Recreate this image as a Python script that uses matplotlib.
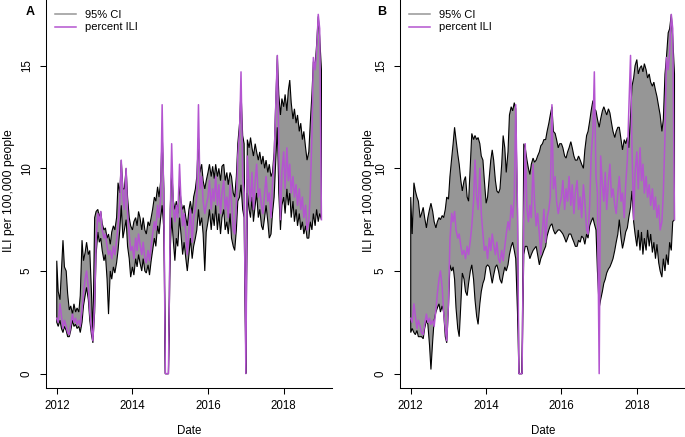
import matplotlib
matplotlib.use("Agg")
import matplotlib.pyplot as plt
import matplotlib.dates as mdates
from matplotlib.lines import Line2D
import numpy as np
import pandas as pd
from datetime import datetime

plt.rcParams['font.family'] = ['Liberation Sans', 'DejaVu Sans']

# semi-monthly dates, Jan 2012 - Jan 2019
dates = pd.date_range('2012-01-01', '2019-01-01', freq='SMS')

# percent ILI (same series in both panels)
ili = ([2.7, 2.5, 3.4, 2.8, 2.2, 2.6, 2.3, 2.0, 1.9, 2.4, 2.9, 2.5, 2.7, 2.4, 2.6, 2.3, 3.1, 3.9, 4.6, 5.0, 4.2, 3.0, 2.2, 1.6]
       + [3.5, 6.5, 7.8, 7.4, 7.9, 7.0, 6.6, 6.8, 6.2, 5.8, 6.0, 5.6, 6.2, 5.8, 6.5, 7.2, 8.4, 10.4, 8.6, 8.0, 10.0, 7.8, 6.8, 6.0]
       + [6.2, 5.6, 6.6, 6.0, 6.8, 6.3, 5.8, 6.4, 5.6, 5.4, 6.0, 5.5, 6.2, 6.8, 7.4, 7.0, 8.2, 7.6, 8.6, 13.1, 8.0, 0, 0, 0]
       + [7.5, 11.2, 8.0, 7.4, 8.2, 7.6, 10.2, 8.4, 7.2, 7.8, 6.8, 5.8, 7.0, 8.0, 6.4, 7.6, 8.0, 8.6, 13.1, 9.0, 9.6, 8.4, 7.8, 8.2]
       + [8.6, 9.4, 8.0, 9.0, 8.4, 9.6, 8.2, 9.2, 7.8, 8.8, 9.4, 8.0, 8.6, 7.6, 9.2, 8.4, 7.0, 6.8, 8.2, 10.6, 11.8, 14.7, 9.6, 8.8]
       + [0, 10.6, 9.2, 8.4, 9.8, 8.0, 9.4, 10.2, 8.6, 9.0, 8.2, 7.8, 8.8, 9.6, 8.4, 8.8, 7.6, 9.2, 10.4, 12.8, 15.5, 11.0, 7.5, 9.8]
       + [10.8, 9.0, 11.0, 9.4, 10.2, 8.8, 9.6, 8.6, 9.2, 8.2, 9.0, 8.0, 8.6, 7.6, 8.2, 7.0, 7.4, 8.8, 11.6, 15.4, 14.8, 15.6, 17.5, 16.8]
       + [7.5])

# panel A: 95% CI
lo_a = ([2.5, 2.3, 2.6, 2.2, 2.0, 2.3, 2.1, 1.8, 1.8, 2.1, 2.6, 2.3, 2.4, 2.2, 2.3, 2.0, 2.5, 3.3, 3.8, 4.2, 3.6, 2.6, 1.9, 1.5]
        + [3.0, 5.8, 6.9, 6.4, 6.6, 6.0, 5.5, 5.8, 4.6, 2.9, 5.0, 4.6, 5.2, 4.9, 5.4, 6.0, 7.0, 8.2, 6.6, 7.0, 7.5, 6.2, 5.6, 4.7]
        + [5.2, 4.8, 5.6, 5.2, 5.8, 5.4, 5.0, 5.6, 5.0, 4.9, 5.3, 4.8, 5.5, 6.0, 6.6, 6.2, 7.2, 6.8, 7.6, 8.2, 7.0, 0, 0, 0]
        + [6.0, 7.6, 6.4, 5.5, 6.6, 6.2, 7.6, 6.8, 5.8, 6.4, 5.6, 5.0, 5.8, 6.6, 5.6, 6.2, 6.6, 7.0, 8.0, 7.2, 7.6, 6.8, 5.0, 6.9]
        + [7.4, 8.0, 7.0, 7.8, 7.2, 8.2, 7.0, 7.8, 6.8, 7.6, 8.0, 7.0, 7.4, 6.8, 7.8, 6.6, 6.2, 6.0, 7.0, 8.4, 8.6, 9.2, 8.0, 7.6]
        + [0, 8.8, 8.0, 7.6, 8.6, 7.4, 8.2, 8.8, 7.6, 8.0, 7.2, 7.0, 7.6, 8.2, 7.4, 6.6, 6.8, 7.8, 8.6, 10.2, 12.0, 8.8, 7.0, 8.2]
        + [8.6, 7.8, 9.0, 8.2, 8.8, 7.6, 8.4, 7.4, 8.0, 7.2, 7.8, 7.0, 7.4, 6.8, 7.2, 6.6, 6.6, 7.4, 7.0, 7.8, 7.2, 8.0, 7.4, 7.8]
        + [7.5])
hi_a = ([5.5, 4.0, 3.6, 5.0, 6.5, 5.2, 5.0, 3.9, 3.1, 3.3, 2.9, 3.4, 3.0, 3.2, 3.0, 3.8, 6.5, 5.5, 5.9, 6.4, 5.8, 6.0, 4.0, 1.8]
        + [7.6, 7.9, 8.0, 7.6, 7.9, 7.3, 7.0, 7.1, 6.6, 6.8, 6.3, 6.9, 7.2, 7.0, 7.6, 9.3, 8.8, 10.4, 9.0, 9.0, 10.0, 8.6, 7.6, 7.2]
        + [7.0, 7.4, 7.6, 7.2, 7.9, 7.6, 7.0, 7.6, 7.0, 6.8, 7.4, 7.2, 7.6, 8.0, 8.6, 8.4, 9.1, 8.6, 9.4, 11.8, 9.0, 0, 0, 0]
        + [8.0, 10.0, 8.4, 8.0, 8.4, 7.8, 9.2, 8.4, 8.0, 8.2, 7.6, 7.2, 8.0, 8.4, 7.8, 8.6, 9.0, 9.6, 11.5, 9.8, 10.2, 9.4, 9.0, 9.4]
        + [9.8, 10.2, 9.6, 10.1, 9.5, 10.2, 9.6, 10.0, 9.4, 10.1, 10.2, 9.4, 9.8, 9.2, 9.8, 9.6, 8.8, 8.6, 9.6, 11.2, 12.2, 13.8, 11.6, 11.2]
        + [0, 11.4, 11.0, 11.5, 11.0, 10.6, 11.2, 10.8, 10.4, 10.8, 10.2, 10.6, 10.0, 10.4, 9.8, 10.2, 9.6, 9.8, 10.8, 13.0, 15.5, 13.6, 12.6, 13.4]
        + [13.0, 13.6, 12.8, 13.8, 14.3, 13.2, 12.4, 12.9, 12.2, 12.6, 11.8, 12.2, 11.4, 11.8, 11.0, 10.4, 10.8, 12.2, 13.6, 15.2, 15.0, 16.0, 17.4, 16.4]
        + [14.8])

# panel B: 95% CI
lo_b = ([2.0, 2.2, 2.0, 1.9, 2.1, 1.8, 1.8, 1.8, 1.7, 2.2, 2.6, 2.4, 1.4, 0.2, 1.6, 2.6, 3.0, 3.2, 3.4, 3.0, 3.3, 3.0, 1.8, 1.5]
        + [3.2, 5.3, 5.0, 5.2, 4.6, 3.2, 2.2, 1.8, 3.4, 4.9, 4.6, 4.0, 3.8, 4.4, 5.0, 5.3, 4.6, 3.6, 2.8, 2.4, 3.4, 4.0, 4.4, 4.6]
        + [5.2, 5.3, 5.2, 4.8, 4.4, 4.8, 5.2, 5.3, 5.0, 4.6, 4.4, 4.8, 5.2, 5.0, 5.3, 5.8, 6.2, 6.4, 6.0, 5.6, 3.0, 0, 0, 0]
        + [5.8, 6.2, 6.2, 5.9, 5.6, 5.8, 6.0, 6.1, 6.2, 5.8, 5.3, 5.6, 5.8, 6.0, 6.2, 6.7, 7.0, 7.2, 7.3, 7.0, 6.8, 6.9, 7.0, 7.0]
        + [6.9, 6.8, 6.6, 6.4, 6.6, 6.8, 6.8, 6.6, 6.4, 6.2, 6.2, 6.5, 6.4, 6.7, 6.6, 6.3, 6.8, 6.6, 7.2, 7.4, 7.6, 7.3, 7.0, 5.0]
        + [3.2, 3.6, 4.0, 4.4, 4.6, 4.9, 5.1, 5.2, 5.4, 5.6, 6.0, 6.4, 6.8, 7.5, 6.6, 6.1, 6.5, 6.9, 7.1, 7.6, 8.1, 8.9, 7.4, 6.8]
        + [6.2, 7.0, 6.0, 6.9, 5.8, 6.6, 6.0, 7.0, 6.2, 6.8, 5.9, 6.4, 5.6, 6.3, 5.4, 5.0, 4.7, 5.6, 5.0, 5.8, 5.3, 6.4, 6.0, 7.4]
        + [7.5])
hi_b = ([8.6, 6.8, 9.3, 8.9, 8.6, 8.4, 7.6, 7.8, 8.1, 7.6, 7.1, 7.6, 8.0, 8.3, 7.9, 7.4, 7.1, 7.4, 7.6, 7.5, 7.7, 7.6, 8.0, 8.6]
        + [8.5, 9.6, 10.5, 11.2, 12.0, 11.4, 10.7, 10.2, 9.4, 8.9, 9.4, 9.6, 8.6, 8.4, 10.2, 11.7, 11.4, 11.6, 11.4, 11.5, 11.2, 10.6, 10.4, 9.4]
        + [8.3, 8.6, 9.6, 10.4, 10.9, 10.4, 9.4, 8.9, 8.8, 9.0, 10.2, 11.6, 11.0, 9.8, 10.8, 12.6, 13.0, 12.8, 13.2, 12.9, 8.0, 0, 0, 0]
        + [11.2, 11.0, 10.4, 10.0, 9.7, 10.2, 10.5, 10.3, 10.4, 10.6, 10.8, 11.1, 11.2, 11.4, 11.4, 11.8, 12.2, 12.6, 13.0, 11.8, 11.7, 11.4, 11.0, 11.2]
        + [11.2, 11.0, 10.6, 10.5, 10.8, 11.0, 11.3, 11.0, 10.6, 10.4, 10.4, 10.6, 10.4, 10.2, 10.0, 10.9, 11.6, 11.8, 12.3, 12.8, 13.3, 12.9, 12.8, 12.4]
        + [12.0, 12.4, 12.8, 13.0, 12.8, 12.6, 12.9, 12.7, 12.2, 11.8, 11.5, 11.8, 12.0, 12.0, 11.4, 10.9, 11.4, 11.2, 11.5, 11.0, 12.6, 14.0, 14.4, 15.0]
        + [15.3, 14.6, 14.9, 15.0, 14.7, 15.1, 14.8, 14.4, 14.6, 14.2, 14.0, 14.2, 13.8, 13.5, 13.0, 12.6, 11.8, 12.4, 14.6, 15.4, 16.6, 16.8, 17.5, 16.4]
        + [14.6])

tick_years = [2012, 2014, 2016, 2018]
y_ticks = [0, 5, 10, 15]

fill_col = '#969696'
ili_col = '#B455D0'
fs = 8.3


def draw_panel(ax, lo, hi):
    x = mdates.date2num(dates.to_pydatetime())
    lo = np.array(lo)
    hi = np.array(hi)
    ax.fill(np.concatenate([x, x[::-1]]), np.concatenate([lo, hi[::-1]]),
            facecolor=fill_col, edgecolor='black', linewidth=0.8, zorder=2)
    ax.plot(x, ili, color=ili_col, lw=1.1, zorder=3)

    ax.set_xlim(mdates.date2num(datetime(2011, 9, 19)), mdates.date2num(datetime(2019, 4, 13)))
    ax.set_ylim(-0.7, 18.2)
    ax.set_xticks([mdates.date2num(datetime(y, 1, 1)) for y in tick_years])
    ax.set_xticklabels([str(y) for y in tick_years])
    ax.set_yticks(y_ticks)
    ax.set_yticklabels([str(v) for v in y_ticks], rotation=90, va='center')
    ax.tick_params(direction='out', length=4.5, width=0.75, labelsize=fs, pad=4)
    ax.tick_params(axis='y', pad=5)
    for s in ['top', 'right']:
        ax.spines[s].set_visible(False)
    for s in ['left', 'bottom']:
        ax.spines[s].set_linewidth(0.75)

    handles = [Line2D([], [], color=fill_col, lw=1.1), Line2D([], [], color=ili_col, lw=1.1)]
    ax.legend(handles, ['95% CI', 'percent ILI'], loc='upper left', frameon=False,
              bbox_to_anchor=(0.03, 0.975), borderpad=0, borderaxespad=0,
              handlelength=1.9, handletextpad=0.8, labelspacing=0.25, fontsize=8)


fig = plt.figure(figsize=(6.85, 4.37), dpi=100)
ax_a = fig.add_axes([46 / 685, 49 / 437, 286 / 685, 388 / 437])
ax_b = fig.add_axes([400 / 685, 49 / 437, 285 / 685, 388 / 437])

draw_panel(ax_a, lo_a, hi_a)
draw_panel(ax_b, lo_b, hi_b)

fig.text(30 / 685, 1 - 12 / 437, 'A', weight='bold', ha='center', va='center', fontsize=9)
fig.text(382 / 685, 1 - 12 / 437, 'B', weight='bold', ha='center', va='center', fontsize=9)
for xp in [9, 369]:
    fig.text(xp / 685, 1 - 191 / 437, 'ILI per 100,000 people', rotation=90,
             ha='center', va='center', fontsize=8.8)
for xp in [189, 543]:
    fig.text(xp / 685, 1 - 431 / 437, 'Date', ha='center', va='center', fontsize=8.3)

fig.savefig('out.png', dpi=100)
